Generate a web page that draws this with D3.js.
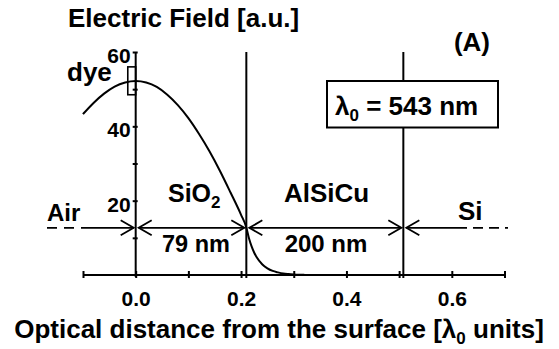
<!DOCTYPE html>
<html>
<head>
<meta charset="utf-8">
<script src="https://cdn.jsdelivr.net/npm/d3@7"></script>
<style>
  html, body { margin: 0; padding: 0; background: #fff; }
  svg { display: block; }
  text { font-family: "Liberation Sans", Arial, Helvetica, sans-serif; font-weight: bold; fill: #000; }
</style>
</head>
<body>
<svg id="chart" width="559" height="349"></svg>
<script>
// ---- data ----
const curveX = [-0.10, -0.08, -0.06, -0.04, -0.02, 0.00, 0.02, 0.04, 0.06, 0.08, 0.10, 0.12, 0.14, 0.16, 0.18, 0.20, 0.21,
                0.215, 0.22, 0.225, 0.23, 0.24, 0.25, 0.26, 0.27, 0.28, 0.29, 0.30, 0.31, 0.32];
const curveE = [43.3, 46.3, 48.8, 50.7, 51.8, 52.2, 51.8, 50.6, 48.5, 45.7, 42.2, 38.0, 33.3, 28.0, 22.2, 16.2, 12.8,
                9.9, 7.7, 6.0, 4.7, 2.9, 1.8, 1.1, 0.7, 0.4, 0.25, 0.15, 0.08, 0.04];
const xTickLabels = [0.0, 0.2, 0.4, 0.6];
const xMinorTicks = [-0.1, 0.1, 0.3, 0.5, 0.7];
const yTickLabels = [20, 40, 60];
const yMinorTicks = [10, 30, 50];
const boundaries = [0, 0.21, 0.508];
const layerNames = ["Air", "SiO2", "AlSiCu", "Si"];
const thicknessLabels = ["79 nm", "200 nm"];
const dyeX = [-0.015, 0];
const dyeE = [48.5, 56];
const arrowLevel = 12.7;
const wavelength = "543 nm";

// ---- scales ----
const x = d3.scaleLinear().domain([-0.1, 0.7]).range([83, 504.5]);
const y = d3.scaleLinear().domain([0, 60]).range([275, 52]);

const svg = d3.select("#chart");
const lw = 2;

function txt(px, py, size, anchor) {
  return svg.append("text").attr("x", px).attr("y", py)
    .attr("font-size", size).attr("text-anchor", anchor || "start");
}

// ---- x axis ----
const xAxis = d3.axisBottom(x)
  .tickValues(d3.sort(xTickLabels.concat(xMinorTicks)))
  .tickSize(3).tickSizeOuter(0)
  .tickFormat(d => xTickLabels.some(v => Math.abs(v - d) < 1e-9) ? d3.format(".1f")(d) : "");
const gx = svg.append("g").attr("transform", `translate(0,${y(0)})`).call(xAxis);
gx.attr("font-family", null).attr("font-size", null);
gx.select(".domain").attr("stroke-width", lw).attr("d", `M${x(-0.1)},0H${x(0.7)}`);
gx.selectAll(".tick line").attr("y1", -4).attr("y2", 3).attr("stroke-width", 2);
gx.selectAll(".tick text").attr("font-size", 21).attr("y", 31).attr("dy", 0);

// ---- y axis ----
const yAxis = d3.axisLeft(y)
  .tickValues(d3.sort(yTickLabels.concat(yMinorTicks)))
  .tickSize(3).tickSizeOuter(0)
  .tickFormat(d => yTickLabels.includes(d) ? d : "");
const gy = svg.append("g").attr("transform", `translate(${x(0)},0)`).call(yAxis);
gy.attr("font-family", null).attr("font-size", null);
gy.select(".domain").attr("stroke-width", lw).attr("d", `M0,${y(60)}V${y(0) + 2}`);
gy.selectAll(".tick line").attr("x1", -3).attr("x2", 2).attr("stroke-width", 2);
gy.selectAll(".tick text").attr("font-size", 21).attr("x", -5).attr("dy", "0.5em");

// ---- layer boundaries ----
svg.selectAll("line.boundary").data(boundaries.slice(1)).join("line")
  .attr("class", "boundary")
  .attr("x1", d => x(d)).attr("x2", d => x(d))
  .attr("y1", y(60)).attr("y2", y(0) + 3)
  .attr("stroke", "#000").attr("stroke-width", lw);

// ---- electric field curve ----
const pts = curveX.map((v, i) => [v, curveE[i]]);
svg.append("path").datum(pts)
  .attr("fill", "none").attr("stroke", "#000").attr("stroke-width", 2)
  .attr("d", d3.line().x(d => x(d[0])).y(d => y(d[1])).curve(d3.curveMonotoneX));

// ---- dye box ----
svg.append("rect")
  .attr("x", x(dyeX[0])).attr("y", y(dyeE[1]))
  .attr("width", x(dyeX[1]) - x(dyeX[0])).attr("height", y(dyeE[0]) - y(dyeE[1]))
  .attr("fill", "none").attr("stroke", "#000").attr("stroke-width", 1.6);

// ---- arrows ----
const ay = y(arrowLevel);
function hline(x1, x2, dash) {
  svg.append("line").attr("x1", x1).attr("x2", x2).attr("y1", ay).attr("y2", ay)
    .attr("stroke", "#000").attr("stroke-width", 1.8)
    .attr("stroke-dasharray", dash || null);
}
function head(px, dir) { // dir = +1 points right, -1 points left
  svg.append("path")
    .attr("d", `M${px - dir * 13},${ay - 7.5}L${px},${ay}L${px - dir * 13},${ay + 7.5}`)
    .attr("fill", "none").attr("stroke", "#000").attr("stroke-width", 1.8);
}
// Air
hline(47, x(-0.1), "10,7");
hline(x(-0.1), x(boundaries[0]) - 2);
head(x(boundaries[0]) - 2, 1);
// SiO2
hline(x(boundaries[0]) + 3, x(boundaries[1]) - 2);
head(x(boundaries[0]) + 3, -1);
head(x(boundaries[1]) - 2, 1);
// AlSiCu
hline(x(boundaries[1]) + 3, x(boundaries[2]) - 2);
head(x(boundaries[1]) + 3, -1);
head(x(boundaries[2]) - 2, 1);
// Si
hline(x(boundaries[2]) + 3, 457);
hline(457, 508, "10,6");
head(x(boundaries[2]) + 3, -1);

// ---- labels ----
txt(67, 81, 26).text("dye");
txt(47, 221, 24).text(layerNames[0]);
const sio = txt(168, 202, 25);
sio.append("tspan").text("SiO");
sio.append("tspan").attr("font-size", 17).attr("dy", 6).text("2");
txt(284, 202, 26).text(layerNames[2]);
txt(458, 220, 26).text(layerNames[3]);
txt(196, 252, 23.5, "middle").text(thicknessLabels[0]);
txt(326, 252, 24, "middle").text(thicknessLabels[1]);

// ---- wavelength box ----
svg.append("rect").attr("x", 327).attr("y", 81).attr("width", 171).attr("height", 46.5)
  .attr("fill", "#fff").attr("stroke", "#000").attr("stroke-width", 2);
const wl = txt(335, 115, 26);
wl.append("tspan").text("λ");
wl.append("tspan").attr("font-size", 17).attr("dy", 6).text("0");
wl.append("tspan").attr("dy", -6).text(" = " + wavelength);

txt(490, 51, 26, "end").text("(A)");

// ---- titles ----
txt(68, 27, 26).text("Electric Field [a.u.]");
const xt = txt(279, 338, 26, "middle");
xt.append("tspan").text("Optical distance from the surface [λ");
xt.append("tspan").attr("font-size", 17).attr("dy", 6).text("0");
xt.append("tspan").attr("dy", -6).text(" units]");
</script>
</body>
</html>
